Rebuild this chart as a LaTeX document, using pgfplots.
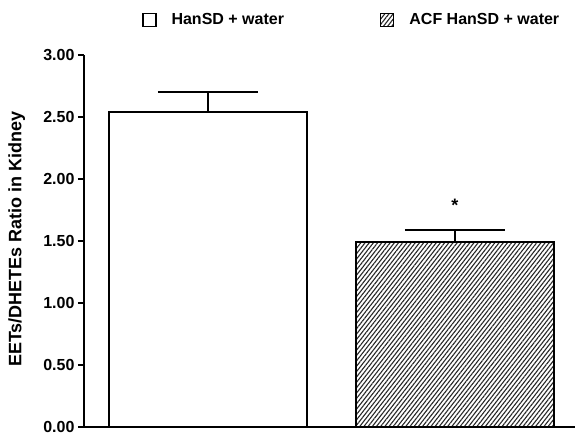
\documentclass[border=0pt]{standalone}
\usepackage{fontspec}
\setmainfont{Liberation Sans}
\usepackage{pgfplots}
\pgfplotsset{compat=1.18}
\usetikzlibrary{patterns.meta}
\begin{document}
\begin{tikzpicture}
\begin{axis}[
  at={(84pt,15pt)}, anchor=south west,
  scale only axis, width=491pt, height=372pt,
  xmin=0.498, xmax=2.486, ymin=0, ymax=3,
  axis x line=bottom, axis y line=left,
  axis line style={-, line width=1.8pt},
  xtick=\empty,
  ytick={0,0.5,1,1.5,2,2.5,3},
  yticklabel style={font=\fontsize{16}{18}\selectfont\bfseries, /pgf/number format/.cd, fixed, fixed zerofill, precision=2, assume math mode=true},
  tick align=outside, major tick length=6pt,
  tick style={line width=1.8pt, black},
  ylabel={EETs/DHETEs Ratio in Kidney},
  ylabel style={font=\fontsize{18}{20}\selectfont\bfseries, at={(axis description cs:-0.137,0.505)}, anchor=center},
  ybar, bar width=0.80, bar shift=0pt,
  legend columns=2,
  legend style={draw=none, fill=none, at={(axis description cs:0.118,1.094)}, anchor=west, inner sep=0pt,
    font=\fontsize{16}{18}\selectfont\bfseries,
    /tikz/every odd column/.append style={column sep=13pt},
    /tikz/every even column/.append style={column sep=94pt}},
  legend image code/.code={\draw[#1, line width=1.4pt] (0pt,-6.5pt) rectangle (13pt,6.5pt);},
  error bars/y dir=plus, error bars/y explicit,
  error bars/error bar style={line width=1.8pt, black},
  error bars/error mark options={rotate=90, mark size=50pt, line width=1.8pt, black},
]
\addplot[draw=black, fill=white, line width=1.8pt] coordinates {(1,2.54) +- (0,0.16)};
\addlegendentry{HanSD + water}
\addplot[draw=black, line width=1.8pt, pattern={Lines[angle=52, distance=3.3pt, line width=1.1pt]}, pattern color=black!85] coordinates {(2,1.49) +- (0,0.10)};
\addlegendentry{ACF HanSD + water}
\node[font=\fontsize{18}{20}\selectfont\bfseries] at (axis cs:2,1.79) {*};
\end{axis}
\pgfresetboundingbox
\useasboundingbox (0,0) rectangle (575pt,442pt);
\end{tikzpicture}
\end{document}
